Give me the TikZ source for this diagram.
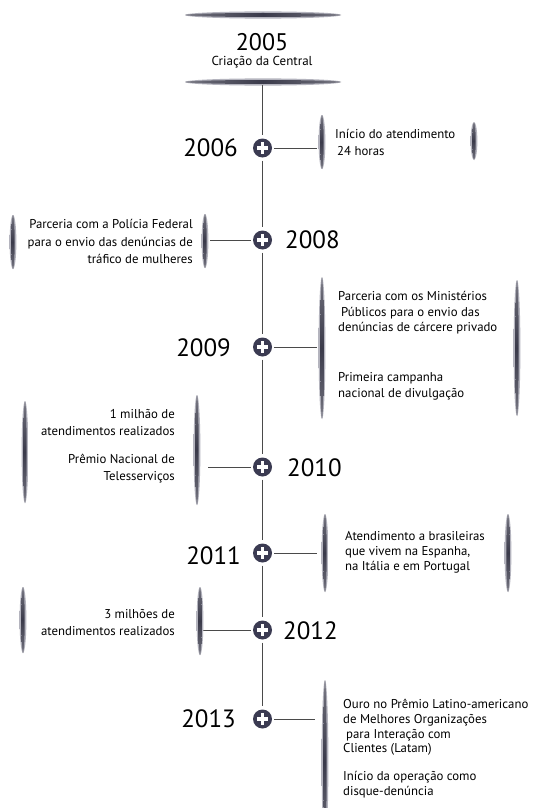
\documentclass[tikz,border=0pt]{standalone}
\usepackage{fontspec}
\setmainfont{PT Sans}
\definecolor{dk}{HTML}{3B3B52}
\definecolor{ln}{HTML}{4A4A4A}
\definecolor{br}{HTML}{3A3A4A}
\definecolor{brl}{HTML}{B4B4BE}
\pgfdeclareverticalshading{brkdark}{100bp}{color(0bp)=(white); color(12bp)=(br!30!white); color(32bp)=(br!80!white); color(50bp)=(br); color(68bp)=(br!80!white); color(88bp)=(br!30!white); color(100bp)=(white)}
\pgfdeclareverticalshading{brklight}{100bp}{color(0bp)=(white); color(25bp)=(brl); color(50bp)=(brl); color(75bp)=(brl); color(100bp)=(white)}
\pgfdeclarehorizontalshading{bardark}{100bp}{color(0bp)=(white); color(12bp)=(br!30!white); color(32bp)=(br!80!white); color(50bp)=(br); color(68bp)=(br!80!white); color(88bp)=(br!30!white); color(100bp)=(white)}
\pgfdeclarehorizontalshading{barlight}{100bp}{color(0bp)=(white); color(25bp)=(brl); color(50bp)=(brl); color(75bp)=(brl); color(100bp)=(white)}
\begin{document}
\begin{tikzpicture}[x=1pt,y=-1pt,
  yr/.style={font=\fontsize{25}{25}\selectfont, inner sep=0pt},
  txt/.style={inner sep=0pt},
  dot/.style={circle, fill=dk, inner sep=0pt, minimum size=19pt,
    path picture={
      \fill[white] ([xshift=-5.6pt,yshift=-1.8pt]path picture bounding box.center) rectangle ++(11.2pt,3.6pt);
      \fill[white] ([xshift=-1.8pt,yshift=-5.6pt]path picture bounding box.center) rectangle ++(3.6pt,11.2pt);
    }},
  conn/.style={draw=ln, line width=1.2pt}
]
\fill[white] (0,0) rectangle (546,808);
\useasboundingbox (0,0) rectangle (546,808);

\newcommand{\brk}[3]{%
  \shade[shading=brklight] (#1,#2) ellipse (3.4 and #3);
  \shade[shading=brkdark] (#1,#2) ellipse (1.7 and #3);}
\newcommand{\hbarr}[3]{%
  \shade[shading=barlight] (#1,#2) ellipse (#3 and 3.6);
  \shade[shading=bardark] (#1,#2) ellipse (#3 and 2);}

% top title
\hbarr{263}{15}{78}
\hbarr{263}{82}{78}
\node[font=\fontsize{24}{24}\selectfont, inner sep=0pt] (t2005) at (262,42) {2005};
\node[font=\fontsize{13}{13}\selectfont, inner sep=0pt] (s2005) at (262,62) {Criação da Central};
\coordinate (top) at (262.5,85);

% dots
\node[dot] (c2006) at (262.5,148) {};
\node[dot] (c2008) at (262.5,240) {};
\node[dot] (c2009) at (262.5,347) {};
\node[dot] (c2010) at (262.5,467) {};
\node[dot] (c2011) at (262.5,553) {};
\node[dot] (c2012) at (262.5,630) {};
\node[dot] (c2013) at (262.5,719) {};

% vertical spine
\draw[conn, shorten >=3pt] (top) -- (c2006);
\draw[conn, shorten <=3pt, shorten >=3pt] (c2006) -- (c2008);
\draw[conn, shorten <=3pt, shorten >=3pt] (c2008) -- (c2009);
\draw[conn, shorten <=3pt, shorten >=3pt] (c2009) -- (c2010);
\draw[conn, shorten <=3pt, shorten >=3pt] (c2010) -- (c2011);
\draw[conn, shorten <=3pt, shorten >=3pt] (c2011) -- (c2012);
\draw[conn, shorten <=3pt, shorten >=3pt] (c2012) -- (c2013);

% years
\node[yr, anchor=east] (y2006) at (238,148) {2006};
\node[yr, anchor=west] (y2008) at (285,240) {2008};
\node[yr, anchor=east] (y2009) at (231,348) {2009};
\node[yr, anchor=west] (y2010) at (287,468) {2010};
\node[yr, anchor=east] (y2011) at (241,556) {2011};
\node[yr, anchor=west] (y2012) at (283,631) {2012};
\node[yr, anchor=east] (y2013) at (236,719) {2013};

% connector ends
\coordinate (e2006) at (317,148);
\coordinate (e2008) at (210,240);
\coordinate (e2009) at (317,347);
\coordinate (e2010) at (208,467);
\coordinate (e2011) at (317,553);
\coordinate (e2012) at (202,630);
\coordinate (e2013) at (315,719);
\foreach \y in {2006,2008,2009,2010,2011,2012,2013}
  \draw[conn, line width=1pt, shorten <=2pt] (c\y) -- (e\y);

% brackets
\brk{322}{142}{27}
\brk{474}{141}{19}
\brk{13}{242}{27}
\brk{205}{241}{27}
\brk{322}{348}{71}
\brk{517}{348}{68}
\brk{25}{452}{51}
\brk{197}{450}{55}
\brk{325}{553}{39}
\brk{508}{553}{39}
\brk{23}{620}{33}
\brk{200}{621}{34}
\brk{325}{762}{82}

% texts
\node[txt, anchor=north west, align=left, font=\fontsize{12.8}{17}\selectfont] (x2006) at (335,126.5)
  {\rule{0pt}{12pt}Início do atendimento\\\hspace{2pt}24 horas};
\node[txt, anchor=north east, align=right, font=\fontsize{12.8}{17.5}\selectfont] (x2008) at (193,216.5)
  {\rule{0pt}{12pt}Parceria com a Polícia Federal\hspace{3pt}\\para o envio das denúncias de\\tráfico de mulheres};
\node[txt, anchor=north west, align=left, font=\fontsize{12.8}{15.5}\selectfont] (x2009) at (338,288.5)
  {\rule{0pt}{12pt}Parceria com os Ministérios\\\hspace{3pt}Públicos para o envio das\\denúncias de cárcere privado\\[34.5pt]Primeira campanha\\nacional de divulgação};
\node[txt, anchor=north east, align=right, font=\fontsize{12.8}{17}\selectfont] (x2010) at (175,406.5)
  {\rule{0pt}{12pt}1 milhão de\hspace{2pt}\\atendimentos realizados\\[11pt]Prêmio Nacional de\hspace{3pt}\\Telesserviços};
\node[txt, anchor=north west, align=left, font=\fontsize{12.8}{15}\selectfont] (x2011) at (345,528.5)
  {\rule{0pt}{12pt}Atendimento a brasileiras\\que vivem na Espanha,\\na Itália e em Portugal};
\node[txt, anchor=north east, align=right, font=\fontsize{12.8}{17}\selectfont] (x2012) at (175,606.5)
  {\rule{0pt}{12pt}3 milhões de\\atendimentos realizados};
\node[txt, anchor=north west, align=left, font=\fontsize{12.8}{14.7}\selectfont] (x2013) at (343,696.5)
  {\rule{0pt}{12pt}Ouro no Prêmio Latino-americano\\de Melhores Organizações\\\hspace{3pt}para Interação com\\Clientes (Latam)\\[13pt]Início da operação como\\disque-denúncia};
\end{tikzpicture}
\end{document}
